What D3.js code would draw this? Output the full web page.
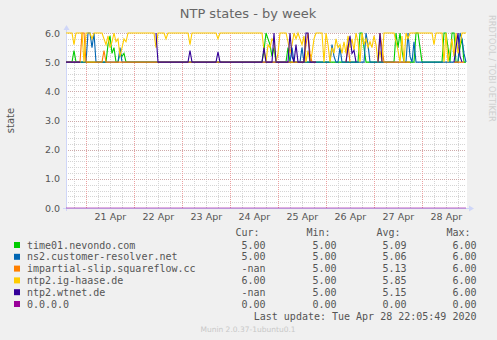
<!DOCTYPE html>
<html>
<head>
<meta charset="utf-8">
<script src="https://cdn.jsdelivr.net/npm/d3@7"></script>
<style>
body { margin: 0; background: #f0f0f0; }
svg { display: block; font-family: "DejaVu Sans", sans-serif; }
.mono { font-family: "DejaVu Sans Mono", monospace; }
</style>
</head>
<body>
<div id="graph"></div>
<script>

// one sample per hour, starting Apr 20 14:05, 201 samples (null = nan)
var startTime = new Date(2020, 3, 20, 14, 5);
var n = null;

var time01 = [
 5,5,5,5,5.4,5,5,5,5,5,
 5,5,5,5,5,5,5,5,5,5,
 5,5.6,5.9,5.3,5.5,5,5,5.3,5.2,5.3,
 5,5,5,5,5,5,5,5,5,5,
 5,5,5,5,5,5,5,5,5,5,
 5,5,5,5,5,5,5,5,5,5,
 5,5,5,5,5,5,5,5,5,5,
 5,5,5,5,5,5,5,5,5,5,
 5,5,5,5,5,5,5,5,5,5,
 5,5,5,5,5,5,5,5,5,5.4,
 6,5.8,5.6,5.2,5.5,5,5,5,5,5,
 5,5.5,5,5,5,5,5,5,5,5,
 5,5,5,5,5,5,5,5,5,5,
 5,5,5,5,5,5,5,5,5,5,
 5,5,5,5,5,5,5,6,6,5.5,
 5,5,5,5,5,5,5,5,5,5,
 5,5,5,5,5,6,5.5,6,5.4,5,
 5,5,5,5,5,6,6,5.5,5,5,
 5,5,5,5,5,5,5,5,5,6,
 6,5.5,5,6,6,5,5,5.5,5.8,5,
 5];

var ns2 = [
 5,5,5,5,5,5,5,5,5,5,
 5,6,6,5.5,6,5,5,5,5,5,
 5,5,5,5,5,5,5,5.5,5,5,
 5,5,5,5,5,5,5,5,5,5,
 5,5,5,5,5,5,5,5,5,5,
 5,5,5,5,5,5,5,5,5,5,
 5,5,5,5,5,5,5,5,5,5,
 5,5,5,5,5,5,5,5,5,5,
 5,5,5,5,5,5,5,5,5,5,
 5,5,5,5,5,5,5,5,5,5,
 5,5,5,5,5,5,5,5,5,5,
 5,5,5,5.5,5,5,5,5,5.5,5,
 5,5,5,5,5,5,5,5,5,5,
 5,5,5,5.6,5.2,5,5,5.5,5,5,
 5,5,5,5,5,5,5,5,5,5,
 6,5.6,5,5,5,5,5,5,5,5,
 5,5,5,5,5,5,5,5,5,5,
 5,6,5.2,5,5.7,5,5,5,5,5,
 5,5,5,5,5,5,5,5,5,5,
 5,5,5,5,5,5,5,6,5.8,5.3,
 5];

var impartial = [
 5,5,5,5,5,5,5,5,6,6,
 5,5,5,5,5,5,5,5,5,5.4,
 5,5,5,5,5,5,5,5,5,5,
 5,5,5,5,5,5,5,5,5,5,
 5,5,5,5,5,5,5,5,5,5,
 5,5,5,5,5,5,5,5,5,5,
 5,5,5,5,5,5,5,5,5,5,
 5,5,5,5,5,5,5,5,5,5,
 5,5,5,5,5,5,5,5,5,5,
 5,5,5,5,5,5,5,5,5,5,
 5,5,5,5,5,5,5,5,5,5,
 5,5,5,5,5,5,5,5,5,5,
 5.6,6,5.3,5,5,5,n,n,n,n,
 n,n,n,n,n,n,n,n,n,n,
 5,5.6,5,n,n,n,n,n,n,n,
 n,n,n,n,n,n,5,6,5.5,5,
 5,5,5,5,5,5,5,5,5,5,
 5,5,5,n,n,n,n,n,n,n,
 n,n,n,n,n,n,n,n,n,n,
 n,n,n,n,5,5,5,5,5,5,
 n];

var igHaase = [
 6,6,6,6,5.6,6,6,6,6,5.0,
 6,6,6,5.8,6,6,6,6,6,5.8,
 5.6,5.9,5.5,5.7,6,5.7,5.8,5.2,5.5,5.8,
 5.7,6,6,6,6,6,6,6,6,6,
 6,6,6,6,6,5.5,6,6,6,6,
 5.8,6,6,6,6,6,6,6,6,6,
 6,6,5.6,6,6,6,6,6,6,6,
 6,6,6,6,6,6,5.8,6,6,6,
 6,6,6,6,6,6,6,6,6,6,
 6,6,6,6,6,6,6,6,6,5.4,
 5.0,5.6,5.5,5.8,5.7,5.0,5.3,6,6,6,
 6,5.7,5.3,5.6,6,5.8,6,5.8,5.6,5.9,
 5.0,5.4,5.0,5.3,5.8,6,6,6,6,5.0,
 6,5.6,5.0,5.5,5.3,5.8,5.5,5.6,5.3,5.7,
 5.3,5.9,5.5,5.8,5.4,6,5.7,5.0,6,5.6,
 5.8,5.5,5.7,5.5,5.9,5.6,5.0,5.4,5.0,6,
 6,6,6,6,6,5.7,5.4,5.0,5.9,5.0,
 6,5.8,6,6,6,6,6,6,6,6,
 6,6,6,6,5.6,6,6,6,6,5.0,
 6,5.0,5.4,5.8,5.2,6,5.3,5.6,6,6,
 6];

var wtnet = [
 5,5,5,5,5,5,5,5,n,n,
 n,n,n,n,n,n,n,n,n,n,
 n,n,n,n,n,n,n,n,n,n,
 n,n,n,n,n,n,n,n,n,n,
 n,n,n,n,n,6,5,5,5,5,
 5,5,5,5,5,5,5,5,5,5,
 5,5,5.4,5,5,5,5,5,5,5,
 5,5,5,5,5,5,5.35,5,5,5,
 5,5,5,5,5,5,5,5,5,5,
 5,5,5,5,5,5,5,5,5,5.5,
 5,5,5,5,6,5,5,5,5,5,
 5,5,6,5.2,5,5.6,5,5,5,5,
 6,6,5,5,5,5,n,n,n,n,
 n,n,n,n,n,n,n,n,n,n,
 5,5.5,5.9,5.3,5.4,5,n,n,n,n,
 n,n,n,n,n,n,5,6,5,n,
 n,n,n,n,n,n,n,n,n,n,
 n,n,n,n,n,n,n,n,n,n,
 n,n,n,n,n,n,n,n,n,n,
 n,n,n,n,5,5.5,6,5.2,5,n,
 n];

var zeroHost = [
 0,0,0,0,0,0,0,0,0,0, 0,0,0,0,0,0,0,0,0,0,
 0,0,0,0,0,0,0,0,0,0, 0,0,0,0,0,0,0,0,0,0,
 0,0,0,0,0,0,0,0,0,0, 0,0,0,0,0,0,0,0,0,0,
 0,0,0,0,0,0,0,0,0,0, 0,0,0,0,0,0,0,0,0,0,
 0,0,0,0,0,0,0,0,0,0, 0,0,0,0,0,0,0,0,0,0,
 0,0,0,0,0,0,0,0,0,0, 0,0,0,0,0,0,0,0,0,0,
 0,0,0,0,0,0,0,0,0,0, 0,0,0,0,0,0,0,0,0,0,
 0,0,0,0,0,0,0,0,0,0, 0,0,0,0,0,0,0,0,0,0,
 0,0,0,0,0,0,0,0,0,0, 0,0,0,0,0,0,0,0,0,0,
 0,0,0,0,0,0,0,0,0,0, 0,0,0,0,0,0,0,0,0,0,
 0];

var seriesNames = ["time01.nevondo.com", "ns2.customer-resolver.net", "impartial-slip.squareflow.cc",
                   "ntp2.ig-haase.de", "ntp2.wtnet.de", "0.0.0.0"];
var curValues = ["5.00", "5.00", "-nan", "6.00", "-nan", "0.00"];
var minValues = ["5.00", "5.00", "5.00", "5.00", "5.00", "0.00"];
var avgValues = ["5.09", "5.06", "5.13", "5.85", "5.15", "0.00"];
var maxValues = ["6.00", "6.00", "6.00", "6.00", "6.00", "0.00"];
var dayLabels = ["21 Apr", "22 Apr", "23 Apr", "24 Apr", "25 Apr", "26 Apr", "27 Apr", "28 Apr"];
var yTicks = [0, 1, 2, 3, 4, 5, 6];

var colors = ["#00cc00", "#0066b3", "#ff8000", "#ffcc00", "#330099", "#990099"];

function drawGraph(){

    var W = 497, H = 340;
    var plot = {left: 66, right: 466, top: 33, bottom: 208};

    var allSeries = [time01, ns2, impartial, igHaase, wtnet, zeroHost];
    var times = d3.range(time01.length).map(function(h){ return d3.timeHour.offset(startTime, h); });
    var endTime = times[times.length - 1];

    var xScale = d3.scaleTime()
        .domain([startTime, endTime])
        .range([plot.left, plot.right]);

    var yScale = d3.scaleLinear()
        .domain([0, 6])
        .range([plot.bottom, plot.top]);

    var svg = d3.select("#graph").append("svg")
        .attr("width", W)
        .attr("height", H);

    svg.append("rect").attr("width", W).attr("height", H).attr("fill", "#f0f0f0");

    // canvas
    svg.append("rect")
        .attr("x", plot.left).attr("y", plot.top)
        .attr("width", plot.right - plot.left + 1).attr("height", plot.bottom - plot.top)
        .attr("fill", "#ffffff");

    // title
    svg.append("text")
        .attr("x", 248).attr("y", 18)
        .attr("text-anchor", "middle")
        .attr("font-size", 13)
        .attr("fill", "#666")
        .text("NTP states - by week");

    svg.append("text")
        .attr("transform", "translate(489,15) rotate(90)")
        .attr("font-size", 8.3)
        .attr("fill", "#cfcfcf")
        .text("RRDTOOL / TOBI OETIKER");

    svg.append("text")
        .attr("transform", "translate(14,120.5) rotate(-90)")
        .attr("text-anchor", "middle")
        .attr("font-size", 10)
        .attr("fill", "#555")
        .text("state");

    // minor grid
    var minorY = d3.range(0, 6.01, 0.2);
    svg.append("g").selectAll("line")
        .data(minorY)
        .enter().append("line")
        .attr("x1", plot.left).attr("x2", plot.right)
        .attr("y1", function(d){ return Math.round(yScale(d)) + 0.5; })
        .attr("y2", function(d){ return Math.round(yScale(d)) + 0.5; })
        .attr("stroke", "#d4d4d4")
        .attr("stroke-dasharray", "1,1");

    var minorX = d3.timeHour.every(6).range(startTime, endTime);
    svg.append("g").selectAll("line")
        .data(minorX)
        .enter().append("line")
        .attr("x1", function(d){ return Math.round(xScale(d)) + 0.5; })
        .attr("x2", function(d){ return Math.round(xScale(d)) + 0.5; })
        .attr("y1", plot.top).attr("y2", plot.bottom)
        .attr("stroke", "#d4d4d4")
        .attr("stroke-dasharray", "1,1");

    // major grid
    svg.append("g").selectAll("line")
        .data(yTicks)
        .enter().append("line")
        .attr("x1", plot.left).attr("x2", plot.right)
        .attr("y1", function(d){ return Math.round(yScale(d)) + 0.5; })
        .attr("y2", function(d){ return Math.round(yScale(d)) + 0.5; })
        .attr("stroke", "rgba(200,120,120,0.45)")
        .attr("stroke-dasharray", "1,1");

    var majorX = d3.timeDay.range(startTime, endTime);
    svg.append("g").selectAll("line")
        .data(majorX)
        .enter().append("line")
        .attr("x1", function(d){ return Math.round(xScale(d)) + 0.5; })
        .attr("x2", function(d){ return Math.round(xScale(d)) + 0.5; })
        .attr("y1", plot.top).attr("y2", plot.bottom)
        .attr("stroke", "#eba0a0")
        .attr("stroke-dasharray", "1,1");

    // axes labels
    var yAxis = svg.append("g")
        .attr("transform", "translate(" + plot.left + ",0)")
        .call(d3.axisLeft(yScale).tickValues(yTicks).tickFormat(d3.format(".1f")).tickSize(0).tickPadding(6));
    yAxis.select(".domain").remove();
    yAxis.selectAll("text").attr("font-family", "DejaVu Sans").attr("font-size", 9.5).attr("fill", "#555");

    var noons = majorX.map(function(d){ return d3.timeHour.offset(d, 12); });
    var xAxis = svg.append("g")
        .attr("transform", "translate(0," + plot.bottom + ")")
        .call(d3.axisBottom(xScale).tickValues(noons)
              .tickFormat(function(d, i){ return dayLabels[i]; })
              .tickSize(0).tickPadding(5));
    xAxis.select(".domain").remove();
    xAxis.selectAll("text").attr("font-family", "DejaVu Sans").attr("font-size", 9.5).attr("fill", "#555");

    // axis lines + arrows
    svg.append("line")
        .attr("x1", plot.left + 0.5).attr("x2", plot.left + 0.5)
        .attr("y1", plot.bottom + 3).attr("y2", plot.top - 4)
        .attr("stroke", "#cfd6f8");
    svg.append("line")
        .attr("x1", plot.left - 3).attr("x2", plot.right + 3)
        .attr("y1", plot.bottom + 0.5).attr("y2", plot.bottom + 0.5)
        .attr("stroke", "#cfd6f8");
    svg.append("path")
        .attr("d", "M" + (plot.left - 2.5) + "," + (plot.top - 3) + "L" + (plot.left + 3.5) + "," + (plot.top - 3) +
                   "L" + (plot.left + 0.5) + "," + (plot.top - 8) + "Z")
        .attr("fill", "#cfd6f8");
    svg.append("path")
        .attr("d", "M" + (plot.right + 3) + "," + (plot.bottom - 2.5) + "L" + (plot.right + 3) + "," + (plot.bottom + 3.5) +
                   "L" + (plot.right + 8) + "," + (plot.bottom + 0.5) + "Z")
        .attr("fill", "#cfd6f8");

    // series lines
    var line = d3.line()
        .defined(function(d){ return d != null; })
        .x(function(d, i){ return xScale(times[i]); })
        .y(function(d){ return yScale(d); })
        .curve(d3.curveLinear);

    svg.append("g").selectAll("path")
        .data(allSeries)
        .enter().append("path")
        .attr("d", line)
        .attr("fill", "none")
        .attr("stroke", function(d, i){ return colors[i]; })
        .attr("stroke-opacity", function(d, i){ return i == 5 ? 0.6 : 1; })
        .attr("stroke-width", 1.1);

    // legend
    var rowY = function(i){ return 245 + i * 11.8; };
    var legend = svg.append("g").attr("class", "mono").attr("font-size", 10).attr("fill", "#555");

    legend.selectAll("rect")
        .data(seriesNames)
        .enter().append("rect")
        .attr("x", 14).attr("y", function(d, i){ return rowY(i) - 3; })
        .attr("width", 6).attr("height", 6)
        .attr("fill", function(d, i){ return colors[i]; });

    legend.selectAll(".name")
        .data(seriesNames)
        .enter().append("text")
        .attr("class", "name")
        .attr("x", 27).attr("y", function(d, i){ return rowY(i) + 3.5; })
        .text(function(d){ return d; });

    var headers = ["Cur:", "Min:", "Avg:", "Max:"];
    var cols = [curValues, minValues, avgValues, maxValues];
    var colRight = [265.5, 336.5, 406.5, 476.5];
    var colLeft = [235.5, 306.5, 376.5, 446.5];

    headers.forEach(function(h, c){
        legend.append("text")
            .attr("x", colLeft[c]).attr("y", 236)
            .text(h);
        legend.selectAll(".c" + c)
            .data(cols[c])
            .enter().append("text")
            .attr("class", "c" + c)
            .attr("x", colRight[c])
            .attr("y", function(d, i){ return rowY(i) + 3.5; })
            .attr("text-anchor", "end")
            .text(function(d){ return d; });
    });

    legend.append("text")
        .attr("x", 476.5).attr("y", 319.5)
        .attr("text-anchor", "end")
        .text("Last update: Tue Apr 28 22:05:49 2020");

    svg.append("text")
        .attr("x", 248).attr("y", 332)
        .attr("text-anchor", "middle")
        .attr("font-size", 7.5)
        .attr("fill", "#c8c8c8")
        .text("Munin 2.0.37-1ubuntu0.1");
}

drawGraph();
</script>
</body>
</html>
